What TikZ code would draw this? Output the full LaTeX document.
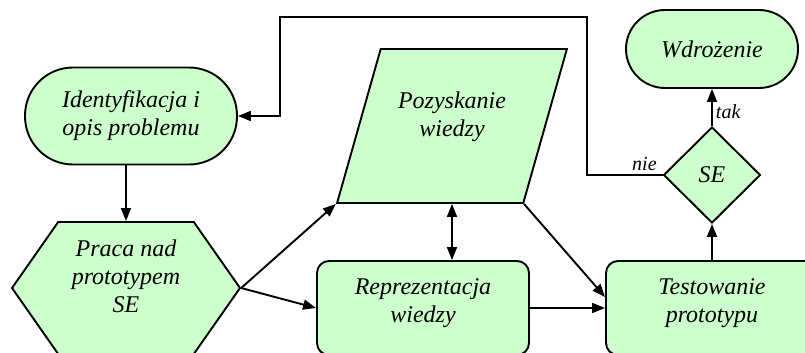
\documentclass[tikz,border=0pt]{standalone}
\usepackage{fontspec}
\setmainfont{Liberation Serif}
\usetikzlibrary{shapes.geometric,shapes.symbols,arrows.meta}
\definecolor{flowgreen}{RGB}{204,255,204}

\begin{document}
\begin{tikzpicture}[x=1pt,y=-1pt,
	line width=1.9pt,
	>={Triangle[length=13pt,width=10pt]},
	n_txt/.style={
		font=\fontsize{24}{28}\selectfont\itshape,
		align=center,
		},
	n_lab/.style={
		font=\fontsize{20}{24}\selectfont\itshape,
		inner sep=3pt,
		},
	n_st/.style={
		n_txt,
		draw=black,
		fill=flowgreen,
		},
	n_term/.style={
		n_st,
		rectangle,
		},
	n_box/.style={
		n_st,
		rectangle,
		rounded corners=12pt,
		minimum width=212pt,
		minimum height=94pt,
		},
	n_hex/.style={
		n_st,
		signal,
		signal to=west and east,
		signal pointer angle=110,
		minimum width=228pt,
		minimum height=132pt,
		},
	n_par/.style={
		n_st,
		trapezium,
		trapezium left angle=73,
		trapezium right angle=107,
		trapezium stretches=true,
		minimum width=230pt,
		minimum height=154pt,
		},
	n_dec/.style={
		n_st,
		diamond,
		inner sep=0pt,
		minimum width=97pt,
		minimum height=96pt,
		}]

	\useasboundingbox (0,0) rectangle (805,353);
	\clip (0,0) rectangle (805,353);

	\node(ident)[n_term, minimum width=212pt, minimum height=97pt, rounded corners=48pt] at (131,116) {Identyfikacja i\\opis problemu};
	\node(proto)[n_hex][label={[n_txt,yshift=12pt]center:Praca nad\\prototypem\\SE}] at (126,288) {};
	\node(acq)[n_par][label={[n_txt,yshift=9pt]center:Pozyskanie\\wiedzy}] at (452,126) {};
	\node(repr)[n_box][label={[n_txt,yshift=5pt]center:Reprezentacja\\wiedzy}] at (423,308) {};
	\node(test)[n_box][label={[n_txt,yshift=5pt]center:Testowanie\\prototypu}] at (712,308) {};
	\node(se)[n_dec] at (712,175) {SE};
	\node(wdr)[n_term, minimum width=172pt, minimum height=78pt, rounded corners=39pt] at (712,49) {Wdrożenie};

	\coordinate (fb1) at (587,17);
	\coordinate (fb2) at (280,17);

	\draw[->] (ident.south -| proto.north) -- (proto.north);
	\path (proto.east) edge[->] (acq.bottom left corner);
	\path (proto.east) edge[->] (repr.west);
	\draw[<->] (acq.south) -- (acq.south |- repr.north);
	\path (acq.bottom right corner) edge[->] ([yshift=11pt]test.west);
	\path (repr) edge[->] (test);
	\path (test) edge[->] (se);
	\path (se) edge[->] node[right, n_lab, pos=0.4]{tak} (wdr);
	\draw[->] (se.west) -- node[above, n_lab, pos=0.24]{nie} (se.west -| fb1) -- (fb1) -- (fb2) |- (ident.east);

\end{tikzpicture}
\end{document}
